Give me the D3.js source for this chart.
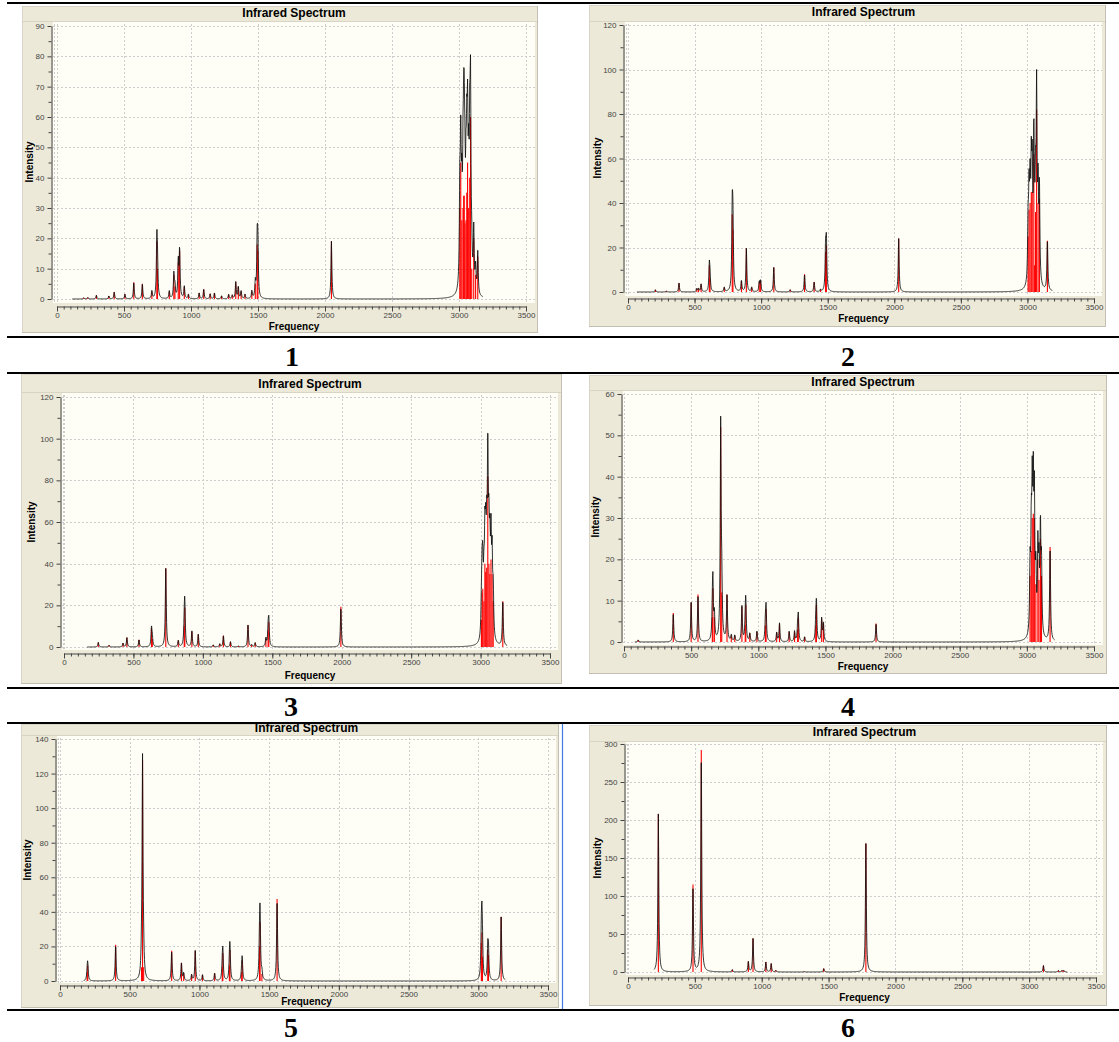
<!DOCTYPE html>
<html>
<head>
<meta charset="utf-8">
<script src="https://cdn.jsdelivr.net/npm/d3@7"></script>
<style>
body { margin: 0; background: #fff; }
svg { display: block; }
.tick text { font-family: "Liberation Sans", Arial, sans-serif; }
</style>
</head>
<body>
<svg id="fig" width="1119" height="1042"></svg>
<script>
// stick spectra: frequency (cm-1) / intensity
const freq1 = [200,230,294,387,427,507,573,637,708,745,750,838,872,880,905,915,950,981,1061,1095,1143,1175,1228,1281,1308,1334,1353,1374,1403,1454,1480,1494,1499,2048,
  3006,3013,3021,3030,3035,3039,3044,3052,3058,3064,3072,3080,3086,3095,3110,3124,3140]
const int1 = [0.4,0.5,1.2,1.0,2.3,1.6,5.5,5,2.5,19,10,2.5,8,4,12,15.8,4,1.5,2,3.2,1.7,2,1,1.5,1.2,5.5,4,2.5,1.5,2.5,5,18,16,19,
  30,45,26,30,34,34,25,26,35,45,30,40,60,10,20,8,14]

const freq2 = [206,287,383,517,530,549,611,616,723,783,788,852,889,929,986,996,1095,1218,1326,1398,1446,1484,1490,2033,
  3005,3012,3020,3029,3036,3048,3054,3061,3069,3080,3090,3150]
const int2 = [1,0.5,4,1.5,1.5,3.5,12,6,2,35,28,5,19.5,2,4.5,5,11,1,8,4.5,1,18,21,24,
  25,37,40,45,45,62,12,36,82,40,42,23]

const freq3 = [247,324,425,453,540,630,636,733,823,866,870,921,967,1075,1122,1148,1199,1256,1325,1351,1377,1454,1470,1475,1994,
  3006,3011,3016,3024,3031,3037,3044,3052,3060,3067,3075,3083,3091,3160]
const int3 = [2.2,0.8,1.8,4.5,3.5,9,4,37.7,3,10,19,7.5,6,1,1.5,5.5,2.5,0.5,10.5,1,2,4,8,12,19.3,
  13,26,28,22,40,36,38,82,40,35,42,35,22,22]

const freq4 = [106,367,500,551,658,662,673,720,728,767,799,825,878,903,907,937,990,1053,1058,1137,1158,1230,1270,1293,1298,1345,1428,1433,1472,1485,1877,
  3024,3033,3040,3048,3056,3067,3082,3090,3101,3109,3173]
const int4 = [0.5,7,9.5,11.5,6,13,6,52,12,11.5,1.5,1.5,8.5,4,9,2,2.5,4,8,2.3,4.5,2.5,2.5,3,6,1.2,4,9,5.5,4.5,4.5,
  16,22,30,31,30,14,20,15,25,16,23]

const freq5 = [195,199,399,585,592,600,801,871,887,944,970,1022,1109,1164,1168,1215,1219,1303,1307,1431,1435,1448,1557,
  3022,3026,3030,3068,3073,3164]
const int5 = [5,9,21,8,128,8,17.5,10.5,4.5,3.5,17.5,3.5,4.5,8,16,9,18,5,12,20,34,4,47.5,
  22,28,14,18,15,37]

const freq6 = [227,486,548,780,900,935,1031,1071,1106,1317,1464,1779,3107,3219,3246,3259]
const int6 = [208,115,292,3,14,44,13,11,2,0.5,4.5,169,8.5,2,2,2]

// axes
const xTicks = [0,500,1000,1500,2000,2500,3000,3500]
const yMax = [90,120,120,60,140,300]
const yStep = [10,20,20,10,20,50]
// span of the drawn envelope curve in each panel
const curveFrom = [114,67,167,80,170,195]
const curveTo = [3178,3187,3191,3207,3195,3286]
const panelNames = ["1","2","3","4","5","6"]
const hwhm = 4  // lorentzian half width used by the viewer

const sticks = [d3.zip(freq1,int1), d3.zip(freq2,int2), d3.zip(freq3,int3),
  d3.zip(freq4,int4), d3.zip(freq5,int5), d3.zip(freq6,int6)]

// pixel layout of each screenshot
const layout = [
  {frame:[22,6,537,332], plot:[53,22,535,303], ax:51, y0:299, yTop:26, x0:57, x1:526, ruler:306, title:17, xlab:330, ylab:[29,162], num:[292,366]},
  {frame:[589,5,1105,326], plot:[625,22,1102,296], ax:623, y0:292, yTop:25, x0:628, x1:1094, ruler:298, title:16, xlab:322, ylab:[597,158], num:[848,366]},
  {frame:[21,374,561,683], plot:[62,393,558,650], ax:60, y0:647, yTop:397, x0:64, x1:550, ruler:653, title:388, xlab:679, ylab:[31,522], num:[291,716]},
  {frame:[589,375,1106,673], plot:[623,391,1103,645], ax:621, y0:642, yTop:394, x0:624, x1:1094, ruler:646, title:386, xlab:670, ylab:[595,517], num:[848,716]},
  {frame:[21,724,558,1007], plot:[57,736,556,983], ax:55, y0:981, yTop:739, x0:60, x1:548, ruler:985, title:732, xlab:1005, ylab:[27,860], num:[291,1037]},
  {frame:[589,725,1106,1005], plot:[626,742,1103,975], ax:624, y0:972, yTop:744, x0:628, x1:1096, ruler:977, title:736, xlab:1001, ylab:[597,858], num:[848,1037]}
]

const svg = d3.select("#fig")
const sans = "'Liberation Sans', Arial, sans-serif"

function drawPanel(i){
	var L = layout[i]
	var g = svg.append("g")
	var f = L.frame, p = L.plot

	// window frame
	g.append("rect")
		.attr("x", f[0]+0.5).attr("y", f[1]+0.5)
		.attr("width", f[2]-f[0]).attr("height", f[3]-f[1])
		.attr("fill", "#ECE9D8").attr("stroke", "#D8D4C6")
	g.append("path")
		.attr("d", "M"+(f[2]+0.5)+","+f[1]+"V"+(f[3]+0.5)+"H"+f[0])
		.attr("fill", "none").attr("stroke", "#C2BEB0")
	g.append("line")
		.attr("x1", f[0]+1).attr("x2", f[2])
		.attr("y1", p[1]-0.5).attr("y2", p[1]-0.5)
		.attr("stroke", "#D9D5C5")

	// plot area
	g.append("rect")
		.attr("x", p[0]).attr("y", p[1])
		.attr("width", p[2]-p[0]).attr("height", p[3]-p[1])
		.attr("fill", "#FFFEF6")

	var x = d3.scaleLinear().domain([0, 3500]).range([L.x0, L.x1])
	var y = d3.scaleLinear().domain([0, yMax[i]]).range([L.y0, L.yTop])
	var yTicks = d3.range(0, yMax[i] + 1e-6, yStep[i])
	var yMinor = d3.range(yStep[i]/2, yMax[i], yStep[i])
	var xMinor = d3.range(0, 3501, 50)

	// dashed grid
	var grid = g.append("g").attr("stroke", "#CDCDCD").attr("stroke-dasharray", "2,2")
	grid.selectAll("line.gx").data(xTicks).join("line")
		.attr("x1", d => Math.round(x(d))+0.5).attr("x2", d => Math.round(x(d))+0.5)
		.attr("y1", p[1]+2).attr("y2", p[3])
	grid.selectAll("line.gy").data(yTicks).join("line")
		.attr("class", "gy")
		.attr("x1", p[0]).attr("x2", p[2])
		.attr("y1", d => Math.round(y(d))+0.5).attr("y2", d => Math.round(y(d))+0.5)
	grid.append("line")
		.attr("x1", p[0]+1.5).attr("x2", p[0]+1.5).attr("y1", p[1]+2).attr("y2", p[3])

	// red sticks
	g.append("g").selectAll("line").data(sticks[i]).join("line")
		.attr("x1", d => x(d[0])).attr("x2", d => x(d[0]))
		.attr("y1", y(0)).attr("y2", d => y(d[1]))
		.attr("stroke", "#FF0000").attr("stroke-width", 1.1)

	// broadened envelope from the same sticks
	var pts = d3.range(curveFrom[i], curveTo[i] + 0.1, 2).map(function(v){
		var s = 0
		sticks[i].forEach(function(d){ var dv = v - d[0]; s += d[1]*hwhm*hwhm/(dv*dv + hwhm*hwhm) })
		return [v, s]
	})
	g.append("path")
		.datum(pts)
		.attr("d", d3.line().x(d => x(d[0])).y(d => y(d[1])))
		.attr("fill", "none")
		.attr("stroke", "#111")
		.attr("stroke-width", 1)
		.attr("stroke-opacity", 0.85)

	// axes
	g.append("g").attr("transform", "translate(0,"+(L.ruler+0.5)+")")
		.call(d3.axisBottom(x).tickValues(xTicks).tickFormat(d3.format("d")).tickSize(5).tickPadding(1).tickSizeOuter(0))
	g.append("g").attr("transform", "translate(0,"+(L.ruler+0.5)+")")
		.call(d3.axisBottom(x).tickValues(xMinor).tickSize(3).tickFormat("").tickSizeOuter(0))
		.select(".domain").remove()
	g.append("g").attr("transform", "translate("+(L.ax+0.5)+",0)")
		.call(d3.axisLeft(y).tickValues(yTicks).tickFormat(d3.format("d")).tickSize(4).tickPadding(3).tickSizeOuter(0))
	g.append("g").attr("transform", "translate("+(L.ax+0.5)+",0)")
		.call(d3.axisLeft(y).tickValues(yMinor).tickSize(3).tickFormat("").tickSizeOuter(0))
		.select(".domain").remove()
	g.selectAll(".domain, .tick line").attr("stroke", "#444")
	g.selectAll(".tick text").attr("font-size", 8).attr("fill", "#444")

	// texts
	var cx = (p[0]+p[2])/2
	g.append("text").attr("x", cx).attr("y", L.title)
		.attr("text-anchor", "middle").attr("font-family", sans)
		.attr("font-weight", "bold").attr("font-size", 12)
		.text("Infrared Spectrum")
	g.append("text").attr("x", cx).attr("y", L.xlab)
		.attr("text-anchor", "middle").attr("font-family", sans)
		.attr("font-weight", "bold").attr("font-size", 10)
		.text("Frequency")
	g.append("text")
		.attr("transform", "translate("+L.ylab[0]+","+L.ylab[1]+") rotate(-90)")
		.attr("dy", "0.35em")
		.attr("text-anchor", "middle").attr("font-family", sans)
		.attr("font-weight", "bold").attr("font-size", 10)
		.text("Intensity")

	svg.append("text").attr("x", L.num[0]).attr("y", L.num[1])
		.attr("text-anchor", "middle")
		.attr("font-family", "'Liberation Serif', 'Times New Roman', serif")
		.attr("font-weight", "bold").attr("font-size", 28)
		.text(panelNames[i])
}

for (var i = 0; i < 6; i++) drawPanel(i)

// table rules and the blue cell edge
svg.append("line").attr("x1", 562.5).attr("x2", 562.5).attr("y1", 723).attr("y2", 1010)
	.attr("stroke", "#3E7CE2").attr("stroke-width", 1.2)
svg.selectAll("line.rule").data([3, 337, 373, 688, 723, 1010]).join("line")
	.attr("class", "rule")
	.attr("x1", 7).attr("x2", 1119)
	.attr("y1", d => d).attr("y2", d => d)
	.attr("stroke", "#000").attr("stroke-width", 2)
</script>
</body>
</html>
